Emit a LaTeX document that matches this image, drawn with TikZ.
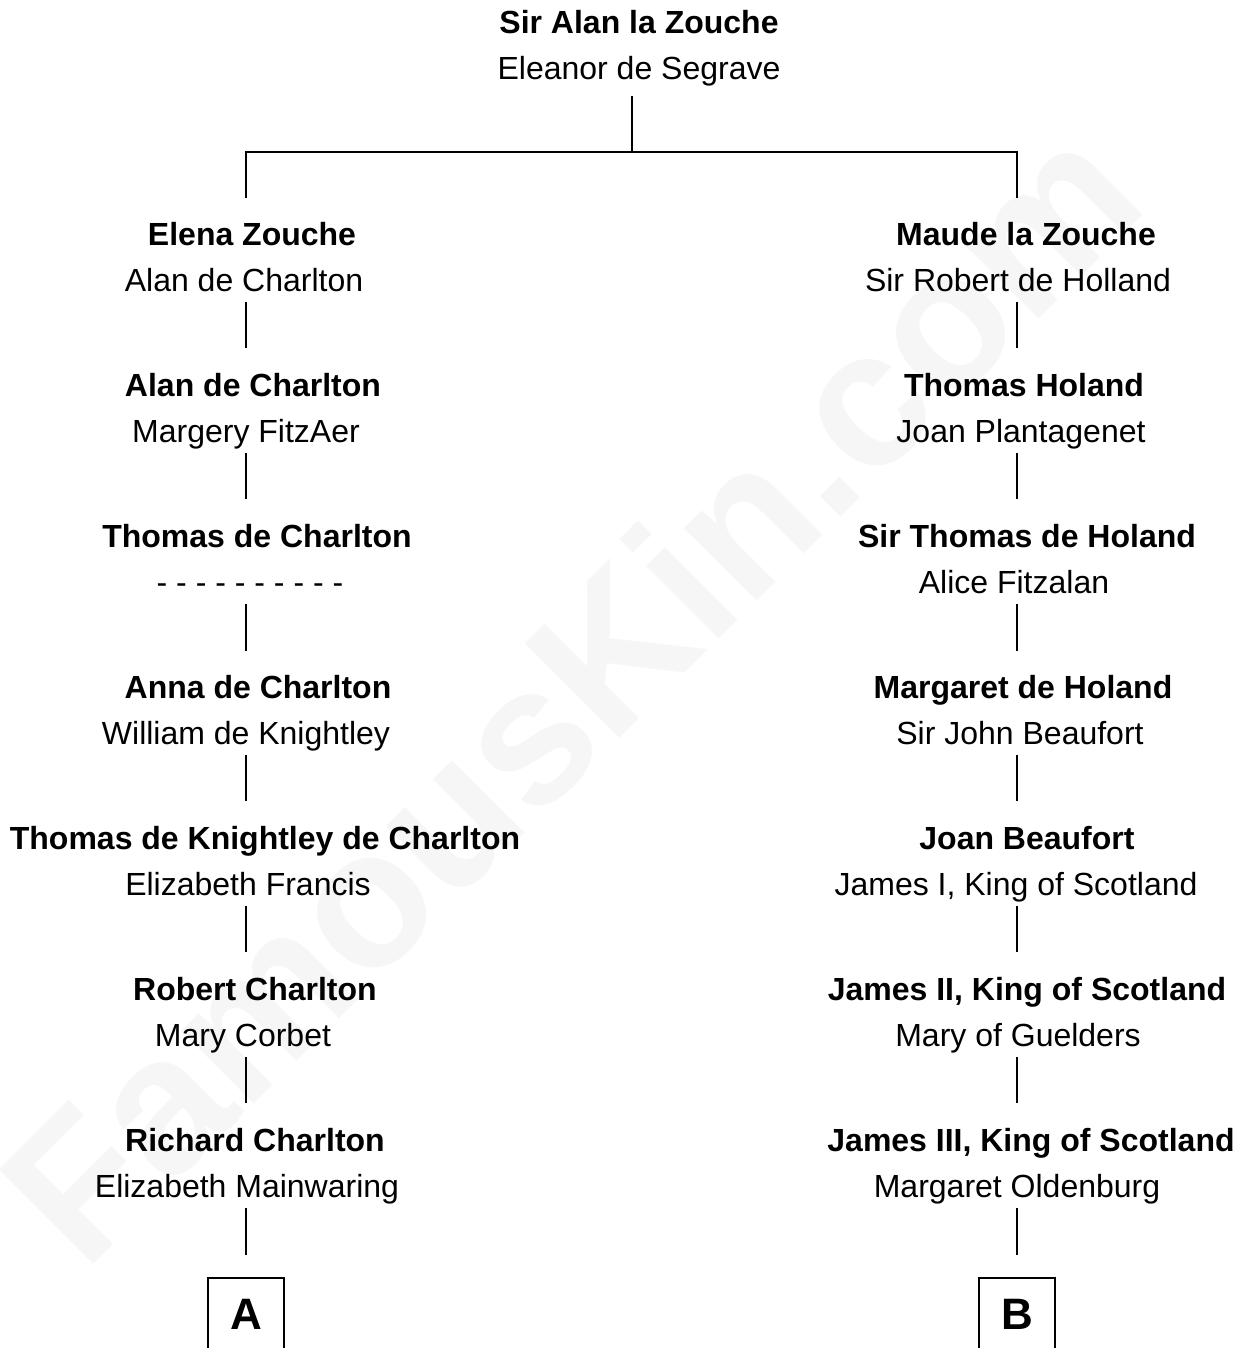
\documentclass[tikz,border=0pt]{standalone}
\usepackage{fontspec}
\setmainfont{Liberation Sans}
\definecolor{wm}{RGB}{246,246,246}
\begin{document}
\begin{tikzpicture}[x=1pt,y=-1pt,
  person/.style={font=\fontsize{32}{38}\selectfont\bfseries, anchor=base, inner sep=0pt},
  spouse/.style={font=\fontsize{32}{38}\selectfont, anchor=base, inner sep=0pt},
  link/.style={line width=1.2pt, black},
  letter/.style={font=\fontsize{44}{50}\selectfont\bfseries, anchor=base, inner sep=0pt},
  watermark/.style={font=\fontsize{194}{200}\selectfont\bfseries, text=wm, anchor=base, inner sep=0pt, rotate=45}]
\useasboundingbox (0,0) rectangle (1244,1348);
\fill[white] (0,0) rectangle (1244,1348);
\begin{scope}
\clip (0,0) rectangle (1244,1348);
\node[watermark] (wm) at (618,740) {FamousKin.com};
\end{scope}

% top couple
\node[person] (p0) at (639,34) {Sir Alan la Zouche};
\node[spouse] (s0) at (639,80) {Eleanor de Segrave};

% left branch
\node[person] (L1) at (252,245) {Elena Zouche};
\node[spouse] (LS1) at (244,291) {Alan de Charlton};
\node[person] (L2) at (253,396) {Alan de Charlton};
\node[spouse] (LS2) at (246,442) {Margery FitzAer};
\node[person] (L3) at (257,547) {Thomas de Charlton};
\node[spouse] (LS3) at (250,593) {- - - - - - - - - -};
\node[person] (L4) at (258,698) {Anna de Charlton};
\node[spouse] (LS4) at (246,744) {William de Knightley};
\node[person] (L5) at (265,849) {Thomas de Knightley de Charlton};
\node[spouse] (LS5) at (248,895) {Elizabeth Francis};
\node[person] (L6) at (255,1000) {Robert Charlton};
\node[spouse] (LS6) at (243,1046) {Mary Corbet};
\node[person] (L7) at (255,1151) {Richard Charlton};
\node[spouse] (LS7) at (247,1197) {Elizabeth Mainwaring};
\node[letter] (A) at (246,1329) {A};

% right branch
\node[person] (R1) at (1026,245) {Maude la Zouche};
\node[spouse] (RS1) at (1018,291) {Sir Robert de Holland};
\node[person] (R2) at (1024,396) {Thomas Holand};
\node[spouse] (RS2) at (1021,442) {Joan Plantagenet};
\node[person] (R3) at (1027,547) {Sir Thomas de Holand};
\node[spouse] (RS3) at (1014,593) {Alice Fitzalan};
\node[person] (R4) at (1023,698) {Margaret de Holand};
\node[spouse] (RS4) at (1020,744) {Sir John Beaufort};
\node[person] (R5) at (1027,849) {Joan Beaufort};
\node[spouse] (RS5) at (1016,895) {James I, King of Scotland};
\node[person] (R6) at (1027,1000) {James II, King of Scotland};
\node[spouse] (RS6) at (1018,1046) {Mary of Guelders};
\node[person] (R7) at (1031,1151) {James III, King of Scotland};
\node[spouse] (RS7) at (1017,1197) {Margaret Oldenburg};
\node[letter] (B) at (1017,1329) {B};

% top connector
\coordinate (t0) at (632,96);
\coordinate (t1) at (632,152);
\coordinate (hl) at (246,152);
\coordinate (hr) at (1017,152);
\coordinate (bl) at (246,198);
\coordinate (br) at (1017,198);
\draw[link] (t0) -- (t1);
\draw[link] (bl) -- (hl) -- (hr) -- (br);

% generation connectors
\foreach \i/\ya/\yb in {1/302/348, 2/453/499, 3/604/651, 4/755/801, 5/906/952, 6/1057/1103, 7/1208/1255}{
  \coordinate (la\i) at (246,\ya);
  \coordinate (lb\i) at (246,\yb);
  \coordinate (ra\i) at (1017,\ya);
  \coordinate (rb\i) at (1017,\yb);
  \draw[link] (la\i) -- (lb\i);
  \draw[link] (ra\i) -- (rb\i);
}

% open boxes at the bottom
\draw[link] (208,1348) -- (208,1278) -- (284,1278) -- (284,1348);
\draw[link] (979,1348) -- (979,1278) -- (1055,1278) -- (1055,1348);
\end{tikzpicture}
\end{document}
